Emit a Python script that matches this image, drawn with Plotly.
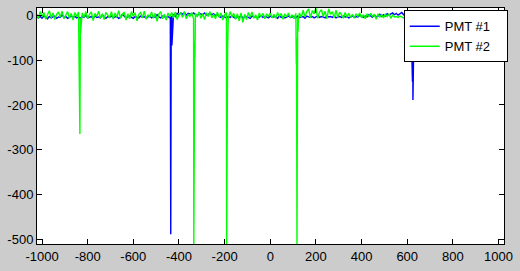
import plotly.graph_objects as go

# sample grid for the baseline noise (x = X_START + i * X_STEP)
X_START = -1024
X_STEP = 8

# PMT #1 (blue) baseline values, one per grid sample
pmt1_base = [
    -3, -5, -2, -6, -1, -4, -7, -2, -5, -3,
    -1, -6, -3, -4, 2, -5, -2, -6, -3, -1,
    -4, -2, -5, -3, -6, -2, -4, 1, -5, -3,
    -2, -6, -1, -4, -3, -5, 2, -3, -6, -2,
    -4, -1, -5, -3, -2, -6, -4, 3, -2, -5,
    -3, -1, -4, -6, -2, -3, -5, -1, -4, -2,
    -6, -3, -1, -5, -2, -4, 2, -3, -5, -1,
    -3, -4, -2, -5, -1, 3, -2, 5, 2, 6,
    3, 7, 1, 5, 4, 2, 6, 3, -1, 5,
    4, 2, 6, 1, 3, 5, 2, 4, 0, 3,
    -2, -4, -1, -3, -5, -2, -4, -1, -3, -6,
    -2, -4, -1, -5, -3, -2, -4, -6, -1, -3,
    -2, -5, -3, -1, -4, -2, -3, -5, -1, -4,
    -2, -3, -6, -1, -4, -2, -5, -3, -1, -4,
    -3, -2, -5, -1, -4, -3, -2, -6, -1, -3,
    -4, -2, -5, -3, -1, -4, -2, -3, -5, -1,
    -3, -2, -4, -1, -5, -3, -2, -4, -1, -3,
    -2, -5, -3, -1, -4, -2, -3, 1, -2, -4,
    -1, -3, 2, -2, -4, 1, -3, -1, 3, -2,
    2, -1, 4, 1, 3, 6, 2, 5, 1, 4,
    7, 2, 5, 3, 1, 6, 4, 2, 8, 3,
    5, 1, 4, 7, 2, 3, 6, 1, 5, 3,
    2, 7, 4, 1, 5, 3, 6, 2, 4, 8,
    3, 5, 1, 6, 2, 4, 7, 3, 1, 5,
    4, 2, 6, 3, 5, 1, 7, 4, 2, 6,
    3, 5, 2, 6, 1, 4, 2,
]

# PMT #2 (green) baseline values, one per grid sample
pmt2_base = [
    4, -6, 9, -3, 7, -8, 2, 11, -5, 6,
    -9, 3, 8, -4, 10, -7, 1, 9, -6, 5,
    -10, 7, -2, 8, -5, 6, -4, 9, -7, 3,
    8, -11, 5, -2, 10, -6, 4, -9, 7, 1,
    -5, 9, -8, 6, -3, 11, -6, 2, 8, -10,
    4, -7, 9, -2, 6, -12, 3, 7, -5, 10,
    -8, 2, -4, 8, -6, 5, -13, 4, 9, -7,
    3, -10, 6, -3, 7, -5, 8, -9, 2, 6,
    -4, 9, -7, 3, -2, 7, -8, 5, -3, 8,
    -6, 4, -9, 6, -2, 9, -5, 3, -7, 8,
    -4, 6, -10, 2, 7, -6, 9, -3, 5, -8,
    4, -12, 6, -15, 3, -9, 7, -4, 8, -6,
    2, -10, 6, -3, 5, -7, 4, -2, 6, -5,
    3, -6, 7, -2, 5, -8, 4, -3, 6, -5,
    2, -7, 5, -3, 6, -4, 12, -3, 9, 15,
    -5, 11, 4, 17, -6, 8, 13, -2, 10, -7,
    15, 3, 9, -5, 12, -4, 8, 2, -6, 7,
    -3, 5, -4, 3, -6, 4, -2, 6, -5, 2,
    -7, 4, -3, 5, -2, 3, -8, 4, -3, 2,
    -5, 3, -2, 4, -6, 1, -3, -2, -4, -1,
    -3, -5, -2, -3, -1, -4, -2, -3, -5, -2,
    -1, -3, -4, -2, -3, -1, -2, -4, -3, -2,
    -5, -1, -3, -2, -4, -3, -1, -2, -3, -5,
    -2, -4, -1, -3, -2, -3, -4, -2, -1, -3,
    -2, -5, -3, -1, -2, -4, -3, -2, -3, -1,
    -3, -2, 6, -12, 8, -15, 5,
]

# pulses (extra samples)
pmt1_spike_x = [-438, -437, -436, -435, -434, -431, -429, -427,
                623, 625, 627, 629, 631]
pmt1_spike_y = [-3, -245, -489, -245, -20, -67, -30, -4,
                -148, -189, -120, -40, -2]

pmt2_spike_x = [-834, -833, -831, -829,
                -335, -334, -333, -331, -330, -329,
                -191, -190, -189, -187, -186, -185,
                114, 115, 117, 118, 119, 121, 122, 123]
pmt2_spike_y = [-265, -120, -40, -25,
                -511, -200, -100, -60, -93, -30,
                -511, -440, -300, -74, -45, -20,
                -109, -50, -511, -260, -160, -260, -35, -5]

x_ticks = [-1000, -800, -600, -400, -200, 0, 200, 400, 600, 800, 1000]
x_tick_text = ["-1000", "-800", "-600", "-400", "-200", "0", "200", "400", "600", "800", "1000"]
y_ticks = [0, -100, -200, -300, -400, -500]
y_tick_text = ["0", "-100", "-200", "-300", "-400", "-500"]


def merge(base, sx, sy):
    pts = [(X_START + i * X_STEP, v) for i, v in enumerate(base)] + list(zip(sx, sy))
    pts.sort(key=lambda p: p[0])
    return [p[0] for p in pts], [p[1] for p in pts]


x1, y1 = merge(pmt1_base, pmt1_spike_x, pmt1_spike_y)
x2, y2 = merge(pmt2_base, pmt2_spike_x, pmt2_spike_y)

fig = go.Figure()
fig.add_trace(go.Scatter(x=x1, y=y1, mode="lines", name="PMT #1\u00a0\u00a0\u00a0",
                         line=dict(color="#0000ff", width=1.4)))
fig.add_trace(go.Scatter(x=x2, y=y2, mode="lines", name="PMT #2\u00a0\u00a0\u00a0",
                         line=dict(color="#00ff00", width=1.4)))

axis_common = dict(showline=True, linecolor="black", linewidth=1, mirror="ticks",
                   ticks="inside", ticklen=5, tickcolor="black", tickwidth=1,
                   showgrid=False, zeroline=False)

fig.update_xaxes(range=[-1022, 1024], tickvals=x_ticks, ticktext=x_tick_text, **axis_common)
fig.update_yaxes(range=[-511, 17], tickvals=y_ticks, ticktext=y_tick_text, **axis_common)

fig.update_layout(
    width=520, height=271, autosize=False,
    margin=dict(l=34, r=10, t=7, b=21, pad=0),
    paper_bgcolor="#cccccc", plot_bgcolor="white",
    font=dict(family="Liberation Sans, Arial, sans-serif", size=13, color="black"),
    showlegend=True,
    legend=dict(x=1.008, y=0.99, xanchor="right", yanchor="top",
                bgcolor="white", bordercolor="black", borderwidth=1,
                font=dict(size=13), tracegroupgap=0),
)

fig.write_html("out.html", config={"displayModeBar": False})
